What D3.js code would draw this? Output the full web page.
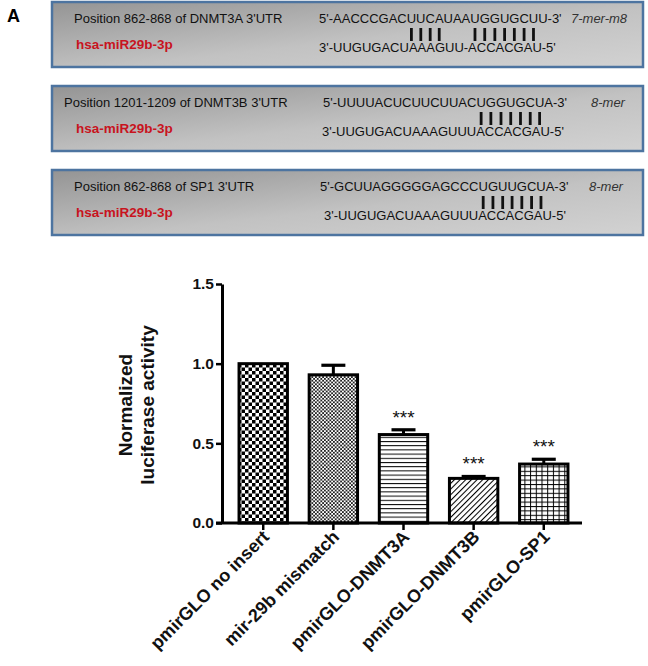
<!DOCTYPE html>
<html>
<head>
<meta charset="utf-8">
<script src="https://cdn.jsdelivr.net/npm/d3@7"></script>
<style>
  body { margin: 0; background: #fff; }
  svg { font-family: Arial, "Liberation Sans", sans-serif; }
</style>
</head>
<body>
<div id="graph"></div>
<script>
// binding sites (top panel)
const sitePositions = [
  "Position 862-868 of DNMT3A 3'UTR",
  "Position 1201-1209 of DNMT3B 3'UTR",
  "Position 862-868 of SP1 3'UTR"
];
const siteMirna = ["hsa-miR29b-3p", "hsa-miR29b-3p", "hsa-miR29b-3p"];
const siteUtr = [
  "5'-AACCCGACUUCAUAAUGGUGCUU-3'",
  "5'-UUUUACUCUUCUUACUGGUGCUA-3'",
  "5'-GCUUAGGGGGAGCCCUGUUGCUA-3'"
];
const siteMir = [
  "3'-UUGUGACUAAAGUU-ACCACGAU-5'",
  "3'-UUGUGACUAAAGUUUACCACGAU-5'",
  "3'-UUGUGACUAAAGUUUACCACGAU-5'"
];
const siteType = ["7-mer-m8", "8-mer", "8-mer"];
// indices of paired characters in the UTR string
const sitePairs = [
  [11, 12, 13, 14, 18, 19, 20, 21, 22, 23, 24],
  [18, 19, 20, 21, 22, 23, 24],
  [18, 19, 20, 21, 22, 23, 24]
];

// luciferase bar chart
const categories = ["pmirGLO no insert", "mir-29b mismatch", "pmirGLO-DNMT3A", "pmirGLO-DNMT3B", "pmirGLO-SP1"];
const values = [1.0, 0.93, 0.555, 0.28, 0.37];
const errors = [0, 0.06, 0.03, 0.012, 0.03];
const stars = ["", "", "***", "***", "***"];
const yTicks = [0, 0.5, 1.0, 1.5];

const W = 648, H = 666;
const svg = d3.select("#graph").append("svg")
  .attr("width", W).attr("height", H);

const defs = svg.append("defs");

// box background gradient
const grad = defs.append("linearGradient").attr("id", "boxgrad")
  .attr("x1", "0%").attr("y1", "0%").attr("x2", "100%").attr("y2", "100%");
grad.append("stop").attr("offset", "0%").attr("stop-color", "#949494");
grad.append("stop").attr("offset", "55%").attr("stop-color", "#c2c2c2");
grad.append("stop").attr("offset", "100%").attr("stop-color", "#d2d2d2");

svg.append("text")
  .attr("x", 7).attr("y", 22)
  .attr("font-size", 18).attr("font-weight", "bold")
  .text("A");

const boxTop = [2, 86, 170];
const boxX = 52, boxW = 591, boxH = 65;
const posX = [74, 64, 74];
const seqX = [319, 323, 320];
const mirX = [319, 322, 324];
const typeX = [571, 591, 589];

sitePositions.forEach(function(p, i) {
  const g = svg.append("g").attr("transform", "translate(0," + boxTop[i] + ")");
  g.append("rect")
    .attr("x", boxX).attr("y", 0)
    .attr("width", boxW).attr("height", boxH)
    .attr("fill", "url(#boxgrad)")
    .attr("stroke", "#4d74a0").attr("stroke-width", 2.5);
  g.append("text").attr("x", posX[i]).attr("y", 21)
    .attr("font-size", 13).attr("fill", "#111").text(p);
  g.append("text").attr("x", 76).attr("y", 47)
    .attr("font-size", 13.5).attr("font-weight", "bold")
    .attr("fill", "#c8141e").text(siteMirna[i]);
  const utr = g.append("text").attr("x", seqX[i]).attr("y", 21)
    .attr("font-size", 13).attr("fill", "#111").text(siteUtr[i]);
  g.append("text").attr("x", mirX[i]).attr("y", 50)
    .attr("font-size", 13).attr("fill", "#111").text(siteMir[i]);
  g.append("text").attr("x", typeX[i]).attr("y", 21)
    .attr("font-size", 13).attr("font-style", "italic")
    .attr("fill", "#333").text(siteType[i]);
  const node = utr.node();
  sitePairs[i].forEach(function(k) {
    const a = node.getStartPositionOfChar(k).x;
    const b = node.getEndPositionOfChar(k).x;
    g.append("line")
      .attr("x1", (a + b) / 2).attr("x2", (a + b) / 2)
      .attr("y1", 26).attr("y2", 39)
      .attr("stroke", "#111").attr("stroke-width", 2.8);
  });
});

// patterns for bars
function pat(id, w, h) {
  return defs.append("pattern").attr("id", id)
    .attr("patternUnits", "userSpaceOnUse")
    .attr("width", w).attr("height", h);
}
let p1 = pat("checker", 7, 7);
p1.append("rect").attr("width", 7).attr("height", 7).attr("fill", "#fff");
p1.append("rect").attr("width", 3.5).attr("height", 3.5).attr("fill", "#000");
p1.append("rect").attr("x", 3.5).attr("y", 3.5).attr("width", 3.5).attr("height", 3.5).attr("fill", "#000");

let p2 = pat("fine", 3.6, 3.6);
p2.append("rect").attr("width", 3.6).attr("height", 3.6).attr("fill", "#fff");
p2.append("rect").attr("width", 1.8).attr("height", 1.8).attr("fill", "#222");
p2.append("rect").attr("x", 1.8).attr("y", 1.8).attr("width", 1.8).attr("height", 1.8).attr("fill", "#222");

let p3 = pat("hlines", 4, 4.2);
p3.append("rect").attr("width", 4).attr("height", 4.2).attr("fill", "#fff");
p3.append("line").attr("x1", 0).attr("x2", 4).attr("y1", 0.5).attr("y2", 0.5)
  .attr("stroke", "#000").attr("stroke-width", 1);

let p4 = pat("diag", 4, 4).attr("patternTransform", "rotate(45)");
p4.append("rect").attr("width", 4).attr("height", 4).attr("fill", "#fff");
p4.append("line").attr("x1", 0.5).attr("x2", 0.5).attr("y1", 0).attr("y2", 4)
  .attr("stroke", "#000").attr("stroke-width", 1.1);

let p5 = pat("grid", 5.7, 4.4);
p5.append("rect").attr("width", 5.7).attr("height", 4.4).attr("fill", "#fff");
p5.append("line").attr("x1", 0.5).attr("x2", 0.5).attr("y1", 0).attr("y2", 4.4)
  .attr("stroke", "#000").attr("stroke-width", 1);
p5.append("line").attr("x1", 0).attr("x2", 5.7).attr("y1", 0.5).attr("y2", 0.5)
  .attr("stroke", "#000").attr("stroke-width", 1);

const fills = ["url(#checker)", "url(#fine)", "url(#hlines)", "url(#diag)", "url(#grid)"];

const x = d3.scaleBand().domain(categories).range([225, 582]).paddingInner(0.31).paddingOuter(0.2);
const y = d3.scaleLinear().domain([0, 1.5]).range([523, 284]);
const axisX0 = 216;

const chart = svg.append("g");

// error bars (upper only)
chart.selectAll(".err").data(categories).enter().append("g").each(function(d, i) {
  if (!errors[i]) return;
  const cx = x(d) + x.bandwidth() / 2;
  const g = d3.select(this);
  g.append("line").attr("x1", cx).attr("x2", cx)
    .attr("y1", y(values[i])).attr("y2", y(values[i] + errors[i]))
    .attr("stroke", "#000").attr("stroke-width", 3);
  g.append("line").attr("x1", cx - 12).attr("x2", cx + 12)
    .attr("y1", y(values[i] + errors[i])).attr("y2", y(values[i] + errors[i]))
    .attr("stroke", "#000").attr("stroke-width", 3.2);
});

chart.selectAll(".bar").data(categories).enter().append("rect")
  .attr("class", "bar")
  .attr("x", d => x(d))
  .attr("width", x.bandwidth())
  .attr("y", (d, i) => y(values[i]))
  .attr("height", (d, i) => y(0) - y(values[i]))
  .attr("fill", (d, i) => fills[i])
  .attr("stroke", "#000").attr("stroke-width", 3);

chart.selectAll(".star").data(categories).enter().append("text")
  .attr("x", d => x(d) + x.bandwidth() / 2)
  .attr("y", (d, i) => y(values[i] + errors[i]) - 6)
  .attr("text-anchor", "middle")
  .attr("font-size", 19).attr("fill", "#111")
  .text((d, i) => stars[i]);

// y axis
const yAxis = d3.axisLeft(y).tickValues(yTicks).tickFormat(d3.format(".1f")).tickSize(6).tickSizeOuter(0);
const yg = svg.append("g").attr("transform", "translate(222,0)").call(yAxis);
yg.select(".domain").attr("stroke-width", 3);
yg.selectAll(".tick line").attr("stroke-width", 2.5);
yg.selectAll(".tick text")
  .attr("font-size", 15.5).attr("font-weight", "bold").attr("fill", "#111")
  .attr("font-family", "Arial, 'Liberation Sans', sans-serif").attr("dx", 1);

// x axis
const xAxis = d3.axisBottom(x).tickSize(7).tickSizeOuter(0).tickFormat("");
const xg = svg.append("g").attr("transform", "translate(0,523)").call(xAxis);
xg.select(".domain").attr("d", "M" + axisX0 + ",0H582").attr("stroke-width", 3);
xg.selectAll(".tick line").attr("stroke-width", 2.5);

svg.selectAll(".xlab").data(categories).enter().append("text")
  .attr("transform", d => "translate(" + (x(d) + x.bandwidth() / 2 + 7) + ",538) rotate(-45)")
  .attr("text-anchor", "end")
  .attr("font-size", 18).attr("font-weight", "bold").attr("fill", "#111")
  .text(d => d);

// y label
const ylab = svg.append("text")
  .attr("transform", "translate(132,405) rotate(-90)")
  .attr("text-anchor", "middle")
  .attr("font-size", 19).attr("font-weight", "bold").attr("fill", "#111");
ylab.append("tspan").attr("x", 0).attr("dy", 0).text("Normalized");
ylab.append("tspan").attr("x", 0).attr("dy", 22).text("luciferase activity");
</script>
</body>
</html>
